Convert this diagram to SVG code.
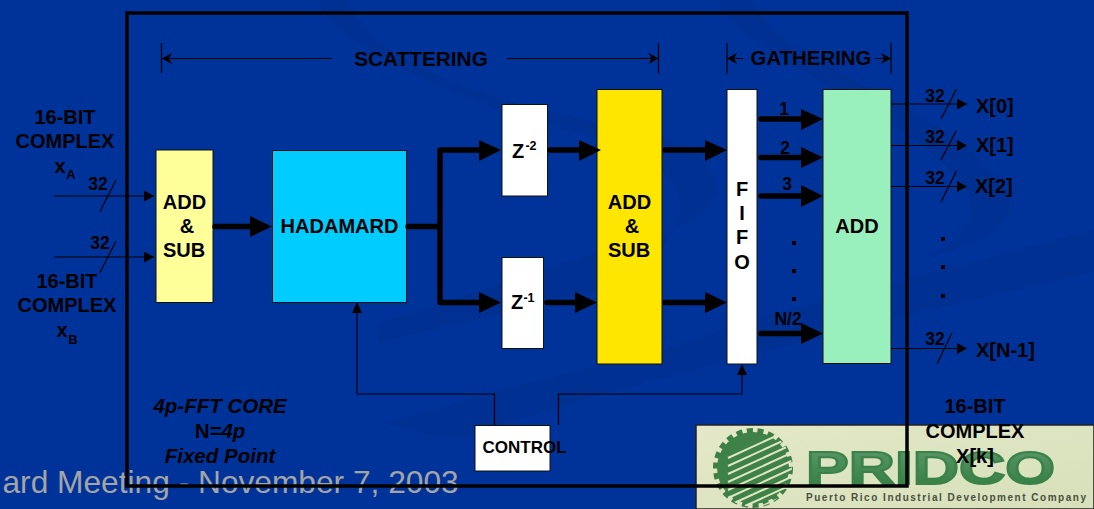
<svg xmlns="http://www.w3.org/2000/svg" width="1094" height="509" viewBox="0 0 1094 509">
<defs>
<marker id="thin" markerUnits="userSpaceOnUse" markerWidth="11" markerHeight="11" refX="10" refY="5.5" orient="auto"><path d="M0 0L10 5.500L0 11z" fill="#000"/></marker>
<linearGradient id="lg" x1="0" y1="0" x2="1" y2="1"><stop offset="0" stop-color="#e4e8c8"/><stop offset="1" stop-color="#d6e0ba"/></linearGradient>
<linearGradient id="lt" x1="0" y1="0" x2="0" y2="1"><stop offset="0" stop-color="#5f9a70"/><stop offset="1" stop-color="#2f7a3c"/></linearGradient>
<clipPath id="gearclip"><circle cx="753" cy="468" r="39"/></clipPath>
</defs>
<style>
text{font-family:"Liberation Sans",Arial,sans-serif;font-weight:700;fill:#000;text-anchor:middle}
.l{font-size:20px}.s{font-size:17.500px}.st{text-anchor:start}.i{font-size:20.500px;font-style:italic}
.box{stroke:#111;stroke-width:1}
.t{fill:none;stroke:#000;stroke-width:1.200}
.k{fill:none;stroke:#000;stroke-width:5.500;stroke-linecap:round;stroke-linejoin:round}
.h{fill:#000}
</style>
<rect width="1094" height="509" fill="#00339a"/>
<g id="backdrop" fill="#003091">
<path d="M384 423L488 393L663 350L757 318L1094 230V272L900 317L757 353L600 395L450 440z"/>
<path d="M316 0H347C370 60 470 95 586 120C650 135 705 140 716 185C720 215 660 240 597 253L379 323V343L597 290C640 275 680 240 680 205C680 170 630 150 586 135C470 105 345 55 316 0z"/>
<path d="M716 0H752C780 60 900 90 970 150C1030 200 1030 235 924 257C975 235 985 205 950 170C880 100 750 60 716 0z"/>
</g>
<text x="2.500" y="492.800" class="st" style="font-size:31.700px;font-weight:400;fill:#a4a4a4">ard Meeting - November 7, 2003</text>
<g id="logo">
<rect x="696" y="425" width="398" height="84" fill="url(#lg)" stroke="#222" stroke-width="1.500"/>
<circle cx="753" cy="468" r="37" fill="none" stroke="#3d7f45" stroke-width="6" stroke-dasharray="6 4.500"/>
<circle cx="753" cy="468" r="36" fill="#3f8248"/>
<g clip-path="url(#gearclip)" stroke="#dfe6c4" stroke-width="2"><path d="M728 458L800 425M728 466L800 433M728 474L800 441M728 482L800 449M728 490L800 457M728 498L800 465M732 504L800 473M745 506L800 481M760 507L800 489"/></g>
<text x="806" y="484" class="st" style="font-size:46px;fill:url(#lt);stroke:#3b8249;stroke-width:2" textLength="249" lengthAdjust="spacingAndGlyphs">PRIDCO</text>
<text x="946" y="501" style="font-size:10px;fill:#4a4f40" textLength="280">Puerto Rico Industrial Development Company</text>
</g>
<rect id="frame" x="127" y="13" width="780" height="473" fill="none" stroke="#000" stroke-width="3.500"/>
<g id="add-sub-in"><rect class="box" x="156" y="150" width="57" height="152.500" fill="#ffff99"/><text class="l" x="184.500" y="208.500">ADD</text><text class="l" x="187" y="233">&amp;</text><text class="l" x="184" y="256.500">SUB</text></g>
<g id="hadamard"><rect class="box" x="272.500" y="150.500" width="134" height="152" fill="#00ccff"/><text class="l" x="339.500" y="233">HADAMARD</text></g>
<g id="z2"><rect class="box" x="502" y="104.500" width="45.500" height="91.500" fill="#fff"/><text x="518" y="157.500" style="font-size:20px">Z</text><text x="531" y="150" style="font-size:12.500px">-2</text></g>
<g id="z1"><rect class="box" x="502" y="257.500" width="41.500" height="91" fill="#fff"/><text x="517" y="309" style="font-size:20px">Z</text><text x="529" y="302" style="font-size:12.500px">-1</text></g>
<g id="add-sub-out"><rect class="box" x="597" y="89.500" width="65" height="274.500" fill="#ffe600"/><text class="l" x="629.500" y="208.500">ADD</text><text class="l" x="632" y="233">&amp;</text><text class="l" x="629" y="256.500">SUB</text></g>
<g id="fifo"><rect class="box" x="727" y="89.500" width="30" height="274.500" fill="#fff"/><text class="l" x="742" y="196">F</text><text class="l" x="742" y="220">I</text><text class="l" x="742" y="244">F</text><text class="l" x="742" y="269">O</text></g>
<g id="add"><rect class="box" x="823" y="89.500" width="68" height="274" fill="#99f0bd"/><text class="l" x="857" y="233">ADD</text></g>
<g id="control"><rect class="box" x="475" y="425.500" width="75" height="45.500" fill="#fff"/><text x="524.500" y="453" style="font-size:17px">CONTROL</text></g>
<g id="connectors">
<path class="t" d="M54 196H154" marker-end="url(#thin)"/>
<path class="t" d="M54 257H154" marker-end="url(#thin)"/>
<path class="t" d="M100 211.500L116 180M100 272.500L116 241"/>
<path class="k" d="M215 226.500H252"/><path class="h" d="M250 216L272 226.500L250 237z"/>
<path class="k" d="M408 226.500H440M480 150H440V302.500H480"/>
<path class="h" d="M479 140L501 150L479 161zM479 292L501 302.500L479 313z"/>
<path class="k" d="M550 150H582M547 302.500H578"/>
<path class="h" d="M579 140L601 150L579 161zM575 292L597 302.500L575 313z"/>
<path class="k" d="M665 150H707M665 302.500H707"/>
<path class="h" d="M705 140L727 150L705 161zM705 292L727 302.500L705 313z"/>
<path class="k" d="M761 119H803M761 157.500H803M761 196H803M761 333.500H803"/>
<path class="h" d="M801 109L823 119L801 130zM801 147L823 157.500L801 168zM801 185L823 196L801 207zM801 323L823 333.500L801 344z"/>
<path class="t" d="M891 104H967" marker-end="url(#thin)"/>
<path class="t" d="M891 145.500H967" marker-end="url(#thin)"/>
<path class="t" d="M891 186.500H967" marker-end="url(#thin)"/>
<path class="t" d="M891 348.500H967" marker-end="url(#thin)"/>
<path class="t" d="M941 119L956.500 89M941 160L956.500 130M941 202L956.500 171M937 364L952 333"/>
<path class="t" d="M494.500 425V394H357V304"/>
<path class="h" d="M357 302L352 313H362z"/>
<path class="t" d="M558.500 425V394H742V366"/>
<path class="h" d="M742 364L737 375H747z"/>
<path class="t" d="M161.500 43V73M162 58.500H332M507 58.500H659M658.500 43V74"/>
<path class="h" d="M162 58.500L172 53L169 58.500L172 64zM658.500 58.500L648.500 53L651.500 58.500L648.500 64z"/>
<path class="t" d="M727 43V74M727 58.500H743M875 58.500H891M891 43V74"/>
<path class="h" d="M727 58.500L737 53L734 58.500L737 64zM891 58.500L881 53L884 58.500L881 64z"/>
</g>
<g id="labels">
<text x="421" y="66" style="font-size:20.800px">SCATTERING</text>
<text x="811" y="65" style="font-size:20.400px">GATHERING</text>
<text class="l" x="65" y="123.500">16-BIT</text><text class="l" x="65" y="147.500">COMPLEX</text>
<text class="l" x="60" y="173">x</text><text x="71" y="179" style="font-size:13px">A</text>
<text class="l" x="67" y="288">16-BIT</text><text class="l" x="67" y="312">COMPLEX</text>
<text class="l" x="62" y="337">x</text><text x="73" y="344" style="font-size:13px">B</text>
<text class="s" x="98" y="190">32</text><text class="s" x="100" y="249">32</text>
<text class="s" x="784" y="115">1</text><text class="s" x="785" y="154">2</text><text class="s" x="787" y="190">3</text><text class="s" x="788" y="325">N/2</text>
<text class="s" x="935" y="102">32</text><text class="s" x="935" y="143">32</text><text class="s" x="935" y="184">32</text><text class="s" x="935" y="345">32</text>
<text class="l st" x="976" y="113">X[0]</text><text class="l st" x="976" y="152">X[1]</text><text class="l st" x="975" y="193">X[2]</text><text class="l st" x="976" y="357">X[N-1]</text>
<text class="l" x="975" y="413">16-BIT</text><text class="l" x="975" y="438">COMPLEX</text><text class="l" x="975" y="463">X[k]</text>
<text class="i" x="220" y="413">4p-FFT CORE</text>
<text class="i" x="220" y="438"><tspan style="font-style:normal">N</tspan>=4p</text>
<text class="i" x="220" y="463">Fixed Point</text>
</g>
<g id="dots" fill="#000"><rect x="792" y="241" width="4" height="4"/><rect x="792" y="269" width="4" height="4"/><rect x="792" y="297" width="4" height="4"/><rect x="941" y="237" width="4" height="4"/><rect x="941" y="265" width="4" height="4"/><rect x="941" y="294" width="4" height="4"/></g>
</svg>
